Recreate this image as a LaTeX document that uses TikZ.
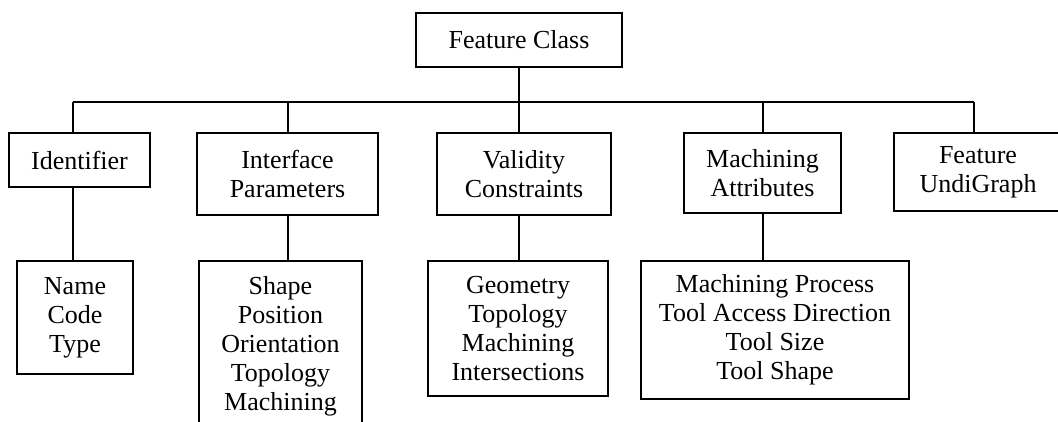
\documentclass[tikz,border=0pt]{standalone}
\usepackage{fontspec}
\setmainfont{Liberation Serif}
\usepackage{tikz}

\begin{document}
\begin{tikzpicture}[
    x=0.5pt,
    y=-0.5pt,
    box/.style={draw, line width=1pt, align=center, inner sep=0pt,
        font=\fontsize{13}{14.5}\selectfont},
    wire/.style={line width=1pt}
]
\clip (0,0) rectangle (1058,422);

\node[box, minimum width=103pt, minimum height=27pt] (cls) at (519,40) {Feature Class};

\node[box, minimum width=70.5pt, minimum height=27pt] (id) at (79.5,160) {Identifier};
\node[box, minimum width=90.5pt, minimum height=41pt] (ifp) at (287.5,174) {Interface\\Parameters};
\node[box, minimum width=87pt, minimum height=41pt] (val) at (524,174) {Validity\\Constraints};
\node[box, minimum width=78.5pt, minimum height=40pt] (mach) at (762.5,173) {Machining\\Attributes};
\node[box, minimum width=84pt, minimum height=39pt] (graph) at (978,172) {Feature\\UndiGraph};

\node[box, minimum width=58pt, minimum height=56.5pt] (idk) at (75,317.5) {Name\\Code\\Type};
\node[box, minimum width=81.5pt, minimum height=85pt] (ifpk) at (280.5,346) {Shape\\Position\\Orientation\\Topology\\Machining};
\node[box, minimum width=90pt, minimum height=67.5pt] (valk) at (518,328.5) {Geometry\\Topology\\Machining\\Intersections};
\node[box, minimum width=134pt, minimum height=69pt] (machk) at (775,330) {Machining Process\\Tool Access Direction\\Tool Size\\Tool Shape};

\coordinate (busL) at (73,102);
\coordinate (busR) at (974,102);

\draw[wire] (busL) -- (busR);
\draw[wire] (cls.south) -- (cls.south |- val.north);
\draw[wire] (busL) -- (busL |- id.north);
\draw[wire] (ifp.north |- busL) -- (ifp.north);
\draw[wire] (mach.north |- busL) -- (mach.north);
\draw[wire] (busR) -- (busR |- graph.north);

\draw[wire] (busL |- id.south) -- (busL |- idk.north);
\draw[wire] (ifp.south) -- (ifp.south |- ifpk.north);
\draw[wire] (cls.south |- val.south) -- (cls.south |- valk.north);
\draw[wire] (mach.south) -- (mach.south |- machk.north);
\end{tikzpicture}
\end{document}
